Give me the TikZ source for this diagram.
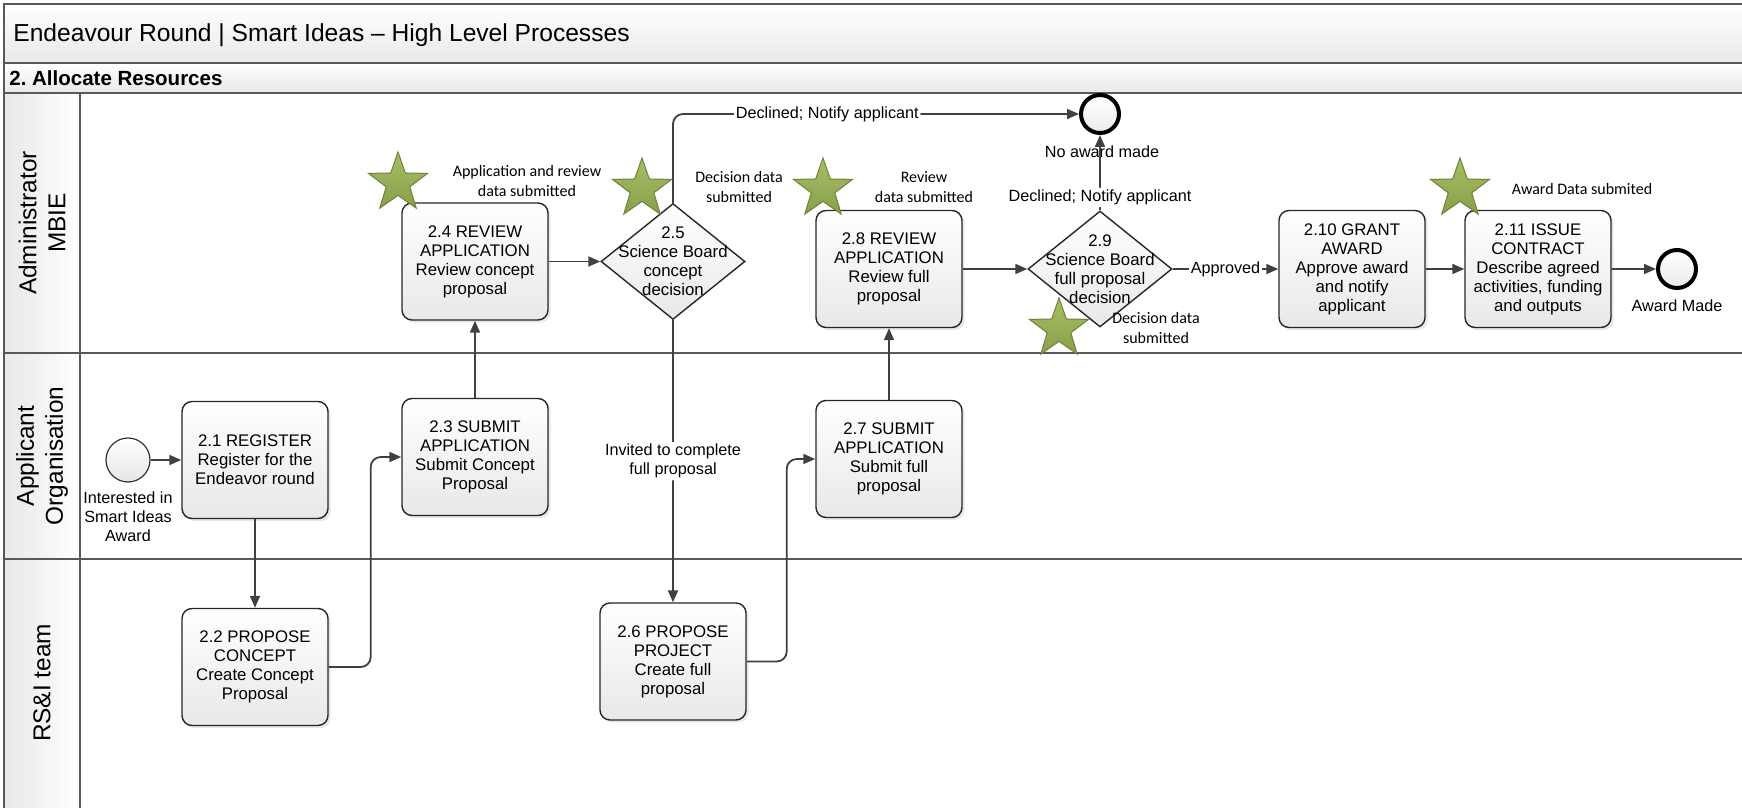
\documentclass[tikz,border=0pt]{standalone}
\usepackage{fontspec}
\setmainfont{Liberation Sans}
\newfontfamily\notefont{Carlito}
\usetikzlibrary{positioning,calc,arrows.meta,shapes.geometric,shadows}

\definecolor{laneGray}{RGB}{89,89,89}
\definecolor{flowGray}{RGB}{64,64,64}
\definecolor{barGray}{RGB}{232,232,232}
\definecolor{starLight}{RGB}{166,190,100}
\definecolor{starDark}{RGB}{136,160,74}
\definecolor{starEdge}{RGB}{110,130,60}

\tikzset{
  lane/.style={draw=laneGray, line width=1pt},
  task/.style={draw=black!85, line width=0.7pt, rounded corners=5pt,
    top color=white, bottom color=black!9,
    minimum width=73pt, minimum height=58.5pt, inner sep=1pt, align=center,
    font=\fontsize{8.4}{9.5}\selectfont,
    drop shadow={opacity=0.18, shadow xshift=1.3pt, shadow yshift=-1.3pt}},
  gate/.style={diamond, draw=black!85, line width=0.7pt,
    top color=white, bottom color=black!9,
    minimum width=72pt, minimum height=58pt, inner sep=0pt},
  gatetext/.style={align=center, font=\fontsize{8.4}{9.5}\selectfont},
  startev/.style={circle, draw=black!80, line width=0.6pt, minimum size=22pt,
    inner sep=0pt, top color=white, bottom color=black!10},
  endev/.style={circle, draw=black, line width=2pt, minimum size=19pt,
    inner sep=0pt, top color=white, bottom color=black!8},
  evlabel/.style={align=center, font=\fontsize{8.1}{9.5}\selectfont},
  flow/.style={draw=flowGray, line width=0.9pt, rounded corners=5pt,
    -{Triangle[length=6pt,width=5pt]}},
  flowlabel/.style={fill=white, inner sep=1pt, align=center,
    font=\fontsize{8.1}{9.5}\selectfont},
  note/.style={align=center, font=\notefont\fontsize{8}{10}\selectfont},
  datastar/.style={star, star points=5, star point ratio=2.5, minimum size=31pt,
    inner sep=0pt, top color=starLight, bottom color=starDark, draw=starEdge,
    line width=0.5pt},
  lanetext/.style={rotate=90, align=center, font=\fontsize{12.2}{14.5}\selectfont}
}

\begin{document}
\begin{tikzpicture}[x=0.5pt, y=-0.5pt]
  \useasboundingbox (0,0) rectangle (1742,808);
  % pool and lanes
  \shade[top color=white, bottom color=barGray] (4.4,4.4) rectangle (1742,63.3);
  \shade[top color=white, bottom color=barGray] (4.4,63.3) rectangle (1742,93.3);
  \shade[left color=barGray, right color=white] (4.4,93.3) rectangle (80,808);
  \draw[lane] (1742,4.4) -- (4.4,4.4) -- (4.4,808);
  \draw[lane] (4.4,63.3) -- (1742,63.3);
  \draw[lane] (4.4,93.3) -- (1742,93.3);
  \draw[lane] (4.4,353) -- (1742,353);
  \draw[lane] (4.4,559) -- (1742,559);
  \draw[lane] (80,93.3) -- (80,808);
  \node[anchor=west, inner sep=0pt, font=\fontsize{12.3}{14}\selectfont] (title) at (13,35)
    {Endeavour Round | Smart Ideas – High Level Processes};
  \node[anchor=west, inner sep=0pt, font=\bfseries\fontsize{10.25}{12}\selectfont] (section) at (9,78)
    {2.\ Allocate Resources};
  \node[lanetext] (laneMBIE) at (42,223) {Administrator\\MBIE};
  \node[lanetext] (laneApp) at (42,456) {Applicant\\Organisation};
  \node[lanetext] (laneRSI) at (42,683) {RS\&I team};

  % events
  \node[startev] (start) at (128,460) {};
  \node[evlabel] (startlbl) at (128,517) {Interested in\\Smart Ideas\\Award};
  \node[endev] (noaward) at (1100,114) {};
  \node[evlabel] (noawardlbl) at (1102,152) {No award made};
  \node[endev] (awardmade) at (1677,269) {};
  \node[evlabel] (awardlbl) at (1677,306) {Award Made};

  % tasks and decisions
  \node[task] (r21) at (255,460) {2.1 REGISTER\\Register for the\\Endeavor round};
  \node[task] (r22) at (255,667) {2.2 PROPOSE\\CONCEPT\\Create Concept\\Proposal};
  \node[task] (r23) at (475,457) {2.3 SUBMIT\\APPLICATION\\Submit Concept\\Proposal};
  \node[task] (r24) at (475,261.5) {2.4 REVIEW\\APPLICATION\\Review concept\\proposal};
  \node[gate, label={[gatetext]center:2.5\\Science Board\\concept\\decision}] (d25) at (673,261.5) {};
  \node[task] (r26) at (673,661.5) {2.6 PROPOSE\\PROJECT\\Create full\\proposal};
  \node[task] (r27) at (889,459) {2.7 SUBMIT\\APPLICATION\\Submit full\\proposal};
  \node[task] (r28) at (889,269) {2.8 REVIEW\\APPLICATION\\Review full\\proposal};
  \node[gate, label={[gatetext]center:2.9\\Science Board\\full proposal\\decision}] (d29) at (1100,269) {};
  \node[task] (r210) at (1352,269) {2.10 GRANT\\AWARD\\Approve award\\and notify\\applicant};
  \node[task] (r211) at (1538,269) {2.11 ISSUE\\CONTRACT\\Describe agreed\\activities, funding\\and outputs};

  % sequence flows
  \draw[flow] (start) -- (r21);
  \draw[flow] (r21) -- (r22);
  \draw[flow] (r22.east) -- ++(42,0) |- (r23.west);
  \draw[flow] (r23) -- (r24);
  \draw[flow] (r24) -- (d25);
  \draw[flow] (d25.north) |- node[flowlabel, pos=0.69] {Declined; Notify applicant} (noaward.west);
  \draw[flow] (d25) -- node[flowlabel] {Invited to complete\\full proposal} (r26);
  \draw[flow] (r26.east) -- ++(40,0) |- (r27.west);
  \draw[flow] (r27) -- (r28);
  \draw[flow] (r28) -- (d29);
  \draw[flow] (d29) -- node[flowlabel, pos=0.17] {Declined; Notify applicant} (noaward);
  \draw[flow] (d29) -- node[flowlabel] {Approved} (r210);
  \draw[flow] (r210) -- (r211);
  \draw[flow] (r211) -- (awardmade);

  % data notes
  \node[datastar] (s24) at (398,183) {};
  \node[note] (n24) at (527,181) {Application and review\\data submitted};
  \node[datastar] (s25) at (642,189) {};
  \node[note] (n25) at (739,187) {Decision data\\submitted};
  \node[datastar] (s28) at (823,189) {};
  \node[note] (n28) at (924,187) {Review\\data submitted};
  \node[datastar] (s29) at (1059,329) {};
  \node[note] (n29) at (1156,328) {Decision data\\submitted};
  \node[datastar] (s211) at (1460,189) {};
  \node[note] (n211) at (1582,189) {Award Data submited};
\end{tikzpicture}
\end{document}
